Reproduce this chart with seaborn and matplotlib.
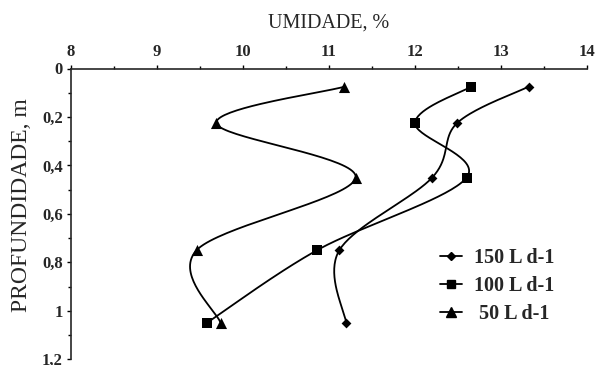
import numpy as np
import pandas as pd
import matplotlib
matplotlib.use("Agg")
import matplotlib.pyplot as plt
from matplotlib.lines import Line2D
from matplotlib.ticker import MultipleLocator, FuncFormatter
import seaborn as sns

# ---- data ----
depth = [0.075, 0.225, 0.45, 0.75, 1.05]
umid_150 = [13.32, 12.49, 12.20, 11.12, 11.20]
umid_100 = [12.65, 12.00, 12.60, 10.86, 9.58]
umid_50 = [11.18, 9.69, 11.31, 9.46, 9.74]
series_names = ["150 L d-1", "100 L d-1", " 50 L d-1"]
series_markers = ["D", "s", "^"]
series_msize = [5, 7, 8]

sns.set_style("ticks")
plt.rcParams["font.family"] = ["Liberation Serif", "DejaVu Serif"]

W, H = 596, 365
fig = plt.figure(figsize=(W / 100, H / 100), dpi=100)
ax = fig.add_axes([71 / W, 1 - 359.3 / H, (587 - 71) / W, (359.3 - 68.5) / H])

XMIN, XMAX, YMIN, YMAX = 8, 14, 0, 1.2
ax.set_xlim(XMIN, XMAX)
ax.set_ylim(YMAX, YMIN)

axw = (587 - 71)
axh = (359.3 - 68.5)


def smooth(xs, ys, n=40):
    # Excel-like smoothed line: cubic Bezier through points in screen space
    u = (np.asarray(xs) - XMIN) / (XMAX - XMIN) * axw
    v = (np.asarray(ys) - YMIN) / (YMAX - YMIN) * axh
    P = np.column_stack([u, v])
    m = len(P)
    out = []
    for i in range(m - 1):
        p0 = P[i - 1] if i > 0 else P[i]
        p1 = P[i]
        p2 = P[i + 1]
        p3 = P[i + 2] if i + 2 < m else P[i + 1]
        c1 = p1 + (p2 - p0) / 6.0
        c2 = p2 - (p3 - p1) / 6.0
        t = np.linspace(0, 1, n)[:, None]
        seg = ((1 - t) ** 3) * p1 + 3 * ((1 - t) ** 2) * t * c1 + 3 * (1 - t) * t ** 2 * c2 + t ** 3 * p2
        if i > 0:
            seg = seg[1:]
        out.append(seg)
    out = np.vstack(out)
    xs2 = out[:, 0] / axw * (XMAX - XMIN) + XMIN
    ys2 = out[:, 1] / axh * (YMAX - YMIN) + YMIN
    return xs2, ys2


all_series = [umid_150, umid_100, umid_50]
for vals, name, mk, ms in zip(all_series, series_names, series_markers, series_msize):
    sx, sy = smooth(vals, depth)
    sns.lineplot(x=sx, y=sy, sort=False, estimator=None, color="black", lw=1.3, ax=ax)
    sns.scatterplot(x=vals, y=depth, marker=mk, s=ms ** 2, color="black",
                    edgecolor="black", linewidth=0, ax=ax, zorder=5)

ax.set_xlim(XMIN, XMAX)
ax.set_ylim(YMAX, YMIN)

ax.xaxis.tick_top()
ax.xaxis.set_label_position("top")
ax.spines["bottom"].set_visible(False)
ax.spines["right"].set_visible(False)
for s in ["top", "left"]:
    ax.spines[s].set_linewidth(1.2)

ax.xaxis.set_major_locator(MultipleLocator(1))
ax.xaxis.set_minor_locator(MultipleLocator(0.5))
ax.yaxis.set_major_locator(MultipleLocator(0.2))
ax.yaxis.set_minor_locator(MultipleLocator(0.1))
ax.yaxis.set_major_formatter(FuncFormatter(lambda v, p: ("%g" % round(v, 2)).replace(".", ",")))
ax.tick_params(which="both", direction="out", width=1.0, color="black")
ax.tick_params(which="major", length=3, labelsize=12, pad=3)
ax.tick_params(which="minor", length=2.5)
for lab in ax.get_xticklabels() + ax.get_yticklabels():
    lab.set_fontweight("bold")

ax.set_xlabel("UMIDADE, %", fontsize=14.5, labelpad=12)
ax.set_ylabel("PROFUNDIDADE, m", fontsize=17)
ax.yaxis.set_label_coords(-0.075, 0.53)

handles = [Line2D([0], [0], color="black", lw=1.3, marker=mk, markersize=ms * 0.85)
           for mk, ms in zip(series_markers, series_msize)]
ax.legend(handles, series_names, loc="upper left", bbox_to_anchor=(0.68, 0.445),
          frameon=False, handlelength=1.1, handletextpad=0.6, labelspacing=0.4,
          prop={"weight": "bold", "size": 14.5})

fig.savefig("out.png", dpi=100)
